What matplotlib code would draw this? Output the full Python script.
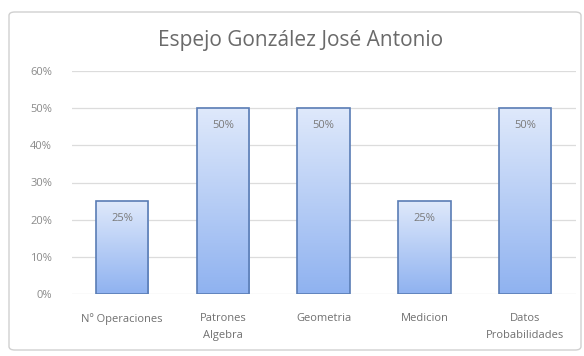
import numpy as np
import matplotlib
matplotlib.use('Agg')
import matplotlib.pyplot as plt
from matplotlib.patches import FancyBboxPatch
from matplotlib.colors import LinearSegmentedColormap

categorias = ['Nº Operaciones', 'Patrones\nAlgebra', 'Geometria', 'Medicion', 'Datos\nProbabilidades']
valores = [0.25, 0.50, 0.50, 0.25, 0.50]
etiquetas = ['25%', '50%', '50%', '25%', '50%']
ticks_y = [0, 0.1, 0.2, 0.3, 0.4, 0.5, 0.6]
ticks_txt = ['0%', '10%', '20%', '30%', '40%', '50%', '60%']

plt.rcParams['font.family'] = ['Open Sans', 'DejaVu Sans']

fig = plt.figure(figsize=(5.84, 3.56), dpi=100)
# marco del grafico
marco = FancyBboxPatch((9/584, 6/356), 572/584, 338/356,
                       boxstyle='round,pad=0,rounding_size=0.01',
                       transform=fig.transFigure, facecolor='white',
                       edgecolor='#d0d0d0', linewidth=1.0, zorder=-5)
fig.patches.append(marco)

ax = fig.add_axes([71.6/584, 62/356, 504/584, 223/356])
ax.set_facecolor('none')

x = np.arange(len(categorias))
barras = ax.bar(x, valores, width=0.52, color='none', edgecolor='#5a7db5',
                linewidth=1.2, zorder=3)

cmap = LinearSegmentedColormap.from_list('grad', ['#8fb2f0', '#dfe9fb'])
grad = np.linspace(0, 1, 256).reshape(-1, 1)
for b, v in zip(barras, valores):
    im = ax.imshow(grad, cmap=cmap, origin='lower', aspect='auto',
                   extent=[b.get_x(), b.get_x() + b.get_width(), 0, v], zorder=2)
    im.set_clip_path(b)

for xi, v, t in zip(x, valores, etiquetas):
    ax.text(xi, v - 0.046, t, ha='center', va='center', fontsize=8, color='#7a7a7a', zorder=4)

ax.set_xlim(-0.5, len(categorias) - 0.5)
ax.set_ylim(0, 0.6)
ax.set_yticks(ticks_y)
ax.set_yticklabels(ticks_txt)
ax.set_xticks(x)
ax.set_xticklabels(categorias, linespacing=1.7)
ax.tick_params(axis='y', length=0, pad=14, labelsize=8, labelcolor='#8a8a8a')
ax.tick_params(axis='x', length=0, pad=14, labelsize=8, labelcolor='#707070')
ax.grid(axis='y', color='#dcdcdc', linewidth=0.9, zorder=0)
for s in ax.spines.values():
    s.set_visible(False)

fig.text(0.515, 0.887, 'Espejo González José Antonio', ha='center', va='center',
         fontsize=15, color='#6a6a6a')

fig.savefig('out.png', dpi=100)
